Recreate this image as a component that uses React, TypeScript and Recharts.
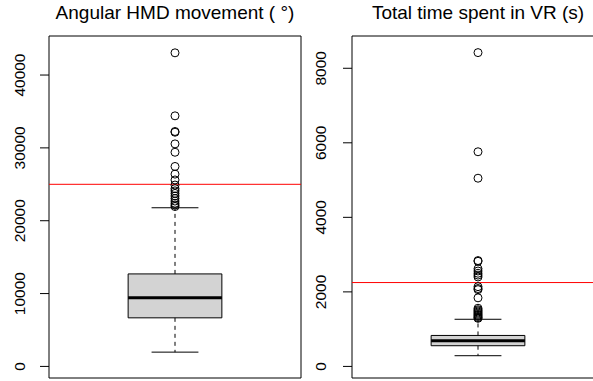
import React from "react";
import {
  ComposedChart,
  XAxis,
  YAxis,
  Scatter,
  ReferenceArea,
  ReferenceLine,
} from "recharts";

// ---- Data: Angular HMD movement (°) ----
const hmdTitle = "Angular HMD movement ( °)";
const hmdTicks = [0, 10000, 20000, 30000, 40000];
const hmdStats = { low: 1960, q1: 6670, median: 9410, q3: 12700, high: 21780 };
const hmdOutliers = [
  43050, 34400, 32250, 32150, 30550, 29400, 27450, 26400, 25600, 24900,
  24400, 24100, 23750, 23400, 23050, 22700, 22400, 22150, 21950,
];
const hmdThreshold = 25000;
const hmdDomain = [-1590, 45360];

// ---- Data: Total time spent in VR (s) ----
const vrTitle = "Total time spent in VR (s)";
const vrTicks = [0, 2000, 4000, 6000, 8000];
const vrStats = { low: 287, q1: 555, median: 689, q3: 831, high: 1265 };
const vrOutliers = [
  8420, 5760, 5050, 2840, 2820, 2620, 2560, 2500, 2450, 2400, 2140, 2090,
  2060, 1840, 1560, 1520, 1490, 1460, 1430, 1400, 1370, 1340, 1310, 1290,
];
const vrThreshold = 2250;
const vrDomain = [-311, 8866];

const FONT = "'Liberation Sans', Arial, Helvetica, sans-serif";
const BOX_HALF = 0.186;
const CAP_HALF = 0.093;

const makeTick = (labelX: number, axisX: number) => (props: any) => {
  const { y, payload } = props;
  return (
    <g>
      <line x1={axisX - 9} x2={axisX} y1={y} y2={y} stroke="#000" strokeWidth={1} />
      <text
        x={labelX}
        y={y}
        transform={`rotate(-90, ${labelX}, ${y})`}
        textAnchor="middle"
        fontSize={15.5}
        fontFamily={FONT}
        fill="#000"
      >
        {payload.value}
      </text>
    </g>
  );
};

const OutlierShape = (props: any) => {
  const { cx, cy } = props;
  return <circle cx={cx} cy={cy} r={4} fill="none" stroke="#000" strokeWidth={1} />;
};

type PanelProps = {
  left: number;
  axisWidth: number;
  tickX: number;
  ticks: number[];
  stats: { low: number; q1: number; median: number; q3: number; high: number };
  outliers: number[];
  threshold: number;
  domain: number[];
};

const Panel = ({ left, axisWidth, tickX, ticks, stats, outliers, threshold, domain }: PanelProps) => {
  const pts = outliers.map((v) => ({ x: 0.5, y: v }));
  return (
    <div style={{ position: "absolute", left, top: 0 }}>
      <ComposedChart
        width={axisWidth + 252 + 6}
        height={381}
        data={pts}
        margin={{ top: 36, right: 6, bottom: 3, left: 0 }}
      >
        <XAxis type="number" dataKey="x" domain={[0, 1]} hide />
        <YAxis
          type="number"
          dataKey="y"
          domain={domain as [number, number]}
          ticks={ticks}
          width={axisWidth}
          tickSize={9}
          tickLine={false}
          axisLine={false}
          tick={makeTick(tickX, axisWidth)}
          allowDataOverflow
        />
        <ReferenceArea
          x1={0}
          x2={1}
          y1={domain[0]}
          y2={domain[1]}
          fill="none"
          stroke="#000"
          strokeWidth={1}
          ifOverflow="visible"
        />
        <ReferenceLine
          segment={[{ x: 0.5, y: stats.q3 }, { x: 0.5, y: stats.high }]}
          stroke="#000"
          strokeDasharray="4 4"
        />
        <ReferenceLine
          segment={[{ x: 0.5, y: stats.q1 }, { x: 0.5, y: stats.low }]}
          stroke="#000"
          strokeDasharray="4 4"
        />
        <ReferenceLine
          segment={[{ x: 0.5 - CAP_HALF, y: stats.high }, { x: 0.5 + CAP_HALF, y: stats.high }]}
          stroke="#000"
        />
        <ReferenceLine
          segment={[{ x: 0.5 - CAP_HALF, y: stats.low }, { x: 0.5 + CAP_HALF, y: stats.low }]}
          stroke="#000"
        />
        <ReferenceArea
          x1={0.5 - BOX_HALF}
          x2={0.5 + BOX_HALF}
          y1={stats.q1}
          y2={stats.q3}
          fill="#d3d3d3"
          fillOpacity={1}
          stroke="#000"
          strokeWidth={1}
        />
        <ReferenceLine
          segment={[{ x: 0.5 - BOX_HALF, y: stats.median }, { x: 0.5 + BOX_HALF, y: stats.median }]}
          stroke="#000"
          strokeWidth={3}
        />
        <Scatter dataKey="y" shape={OutlierShape} isAnimationActive={false} />
        <ReferenceLine y={threshold} stroke="#ff0000" strokeWidth={1} />
      </ComposedChart>
    </div>
  );
};

const titleStyle = (center: number): React.CSSProperties => ({
  position: "absolute",
  top: 3,
  left: center - 150,
  width: 300,
  textAlign: "center",
  fontFamily: FONT,
  fontSize: 19,
  lineHeight: "19px",
  color: "#000",
  whiteSpace: "nowrap",
});

export default function App() {
  return (
    <div
      style={{
        position: "absolute",
        left: 0,
        top: 0,
        width: 593,
        height: 381,
        overflow: "hidden",
        background: "#fff",
      }}
    >
      <Panel
        left={0}
        axisWidth={49}
        tickX={25}
        ticks={hmdTicks}
        stats={hmdStats}
        outliers={hmdOutliers}
        threshold={hmdThreshold}
        domain={hmdDomain}
      />
      <Panel
        left={300}
        axisWidth={52}
        tickX={26}
        ticks={vrTicks}
        stats={vrStats}
        outliers={vrOutliers}
        threshold={vrThreshold}
        domain={vrDomain}
      />
      <div style={titleStyle(175)}>{hmdTitle}</div>
      <div style={titleStyle(478)}>{vrTitle}</div>
    </div>
  );
}
